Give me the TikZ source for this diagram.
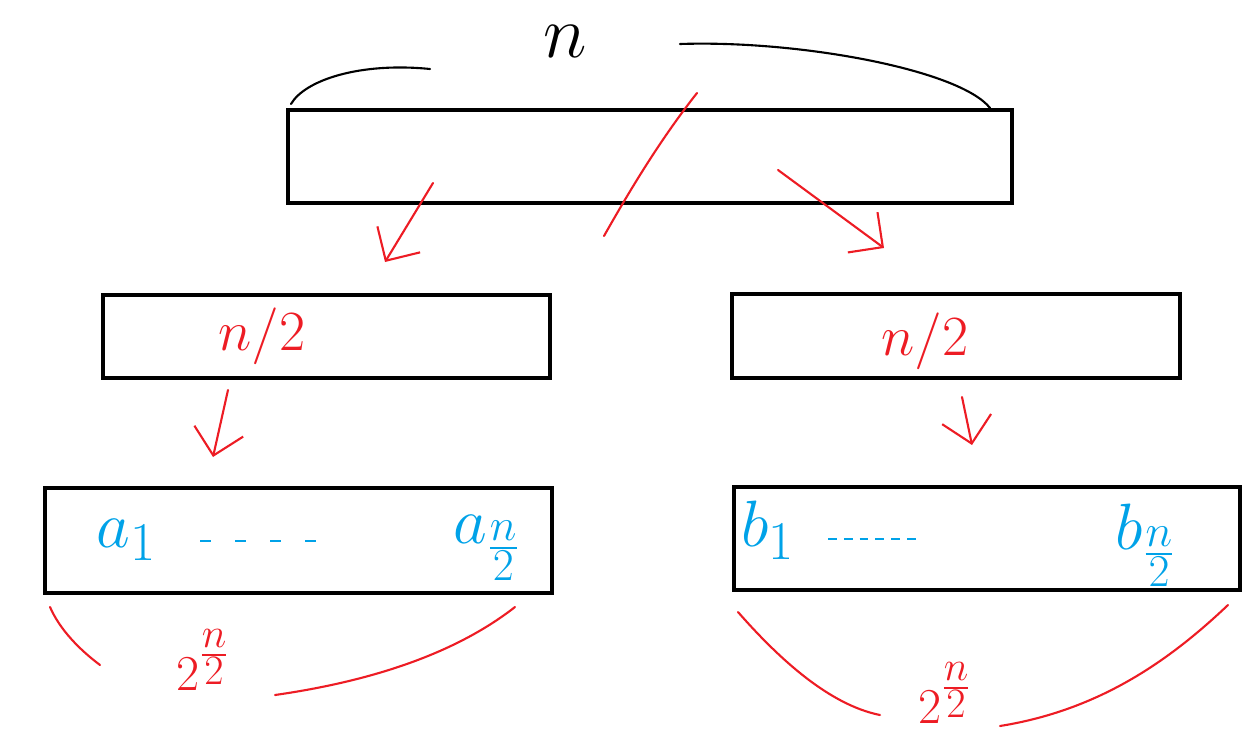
\documentclass[tikz,border=0pt]{standalone}
\usepackage{amsmath,amssymb}
\usepackage{tikz}
\usetikzlibrary{arrows.meta}
\definecolor{penred}{RGB}{237,28,36}
\definecolor{penblue}{RGB}{0,162,232}
\tikzset{
  block/.style={draw=black,line width=2.3pt,rectangle,inner sep=0pt},
  redline/.style={draw=penred,line width=1.2pt,line cap=round},
  redarrow/.style={redline,-{Straight Barb[length=5mm,width=10mm,line width=1.2pt]}},
  bigfont/.style={font=\fontsize{24.88}{26}\selectfont,inner sep=0.5pt,transform shape,scale=#1},
  redtext/.style={text=penred,bigfont=1.3},
  bluetext/.style={text=penblue,bigfont=1.5},
  dots/.style={draw=penblue,line width=1.1pt,dash pattern=on 6pt off 14pt}
}
\begin{document}
\begin{tikzpicture}[x=0.02cm,y=-0.02cm]
\useasboundingbox (0,0) rectangle (1247,750);
% boxes
\node[block,minimum width=14.48cm,minimum height=1.86cm] (top) at (650,156.5) {};
\node[block,minimum width=8.94cm,minimum height=1.66cm] (midl) at (326.5,336.5) {};
\node[block,minimum width=8.96cm,minimum height=1.68cm] (midr) at (956,336) {};
\node[block,minimum width=10.14cm,minimum height=2.10cm] (botl) at (298.5,540.5) {};
\node[block,minimum width=10.12cm,minimum height=2.06cm] (botr) at (987,538.5) {};
% top brace
\node[bigfont=1.7] (ntop) at (565,42) {$n$};
\draw[line width=1.2pt,line cap=round] (291,104) .. controls (305,80) and (360,62) .. (430,69);
\draw[line width=1.2pt,line cap=round] (680,44) .. controls (800,40) and (960,70) .. (990,108);
% split
\coordinate (cuta) at (697,93);
\coordinate (cutb) at (604,236);
\draw[redline] (cuta) .. controls (660,140) and (630,190) .. (cutb);
\coordinate (al) at (433,183);
\coordinate (bl) at (385,262);
\coordinate (ar) at (778,170);
\coordinate (br) at (884,248);
\draw[redarrow] (al) -- (bl);
\draw[redarrow] (ar) -- (br);
% halves
\node[redtext] (hl) at (262,336) {$n/2$};
\node[redtext] (hr) at (925,341) {$n/2$};
\coordinate (cl) at (228,390);
\coordinate (dl) at (213,457);
\coordinate (cr) at (962,397);
\coordinate (dr) at (972,445);
\draw[redarrow] (cl) -- (dl);
\draw[redarrow] (cr) -- (dr);
% elements
\node[bluetext] (a1) at (127,540) {$a_{1}$};
\node[bluetext] (an) at (487,548) {$a_{\frac{n}{2}}$};
\node[bluetext] (b1) at (768,530) {$b_{1}$};
\node[bluetext] (bn) at (1146,545) {$b_{\frac{n}{2}}$};
\draw[dots] (200,541) -- (340,541);
\draw[dots,dash pattern=on 5pt off 4pt] (828,539) -- (920,539);
% counts
\node[text=penred,bigfont=1.15] (cntl) at (203,660) {$2^{\textstyle\frac{n}{2}}$};
\node[text=penred,bigfont=1.15] (cntr) at (945,693) {$2^{\textstyle\frac{n}{2}}$};
\draw[redline] (50,607) .. controls (60,630) and (80,650) .. (100,665);
\draw[redline] (275,695) .. controls (380,680) and (460,650) .. (515,607);
\draw[redline] (738,612) .. controls (780,660) and (830,705) .. (880,715);
\draw[redline] (1000,726) .. controls (1100,710) and (1170,660) .. (1228,605);
\end{tikzpicture}
\end{document}
